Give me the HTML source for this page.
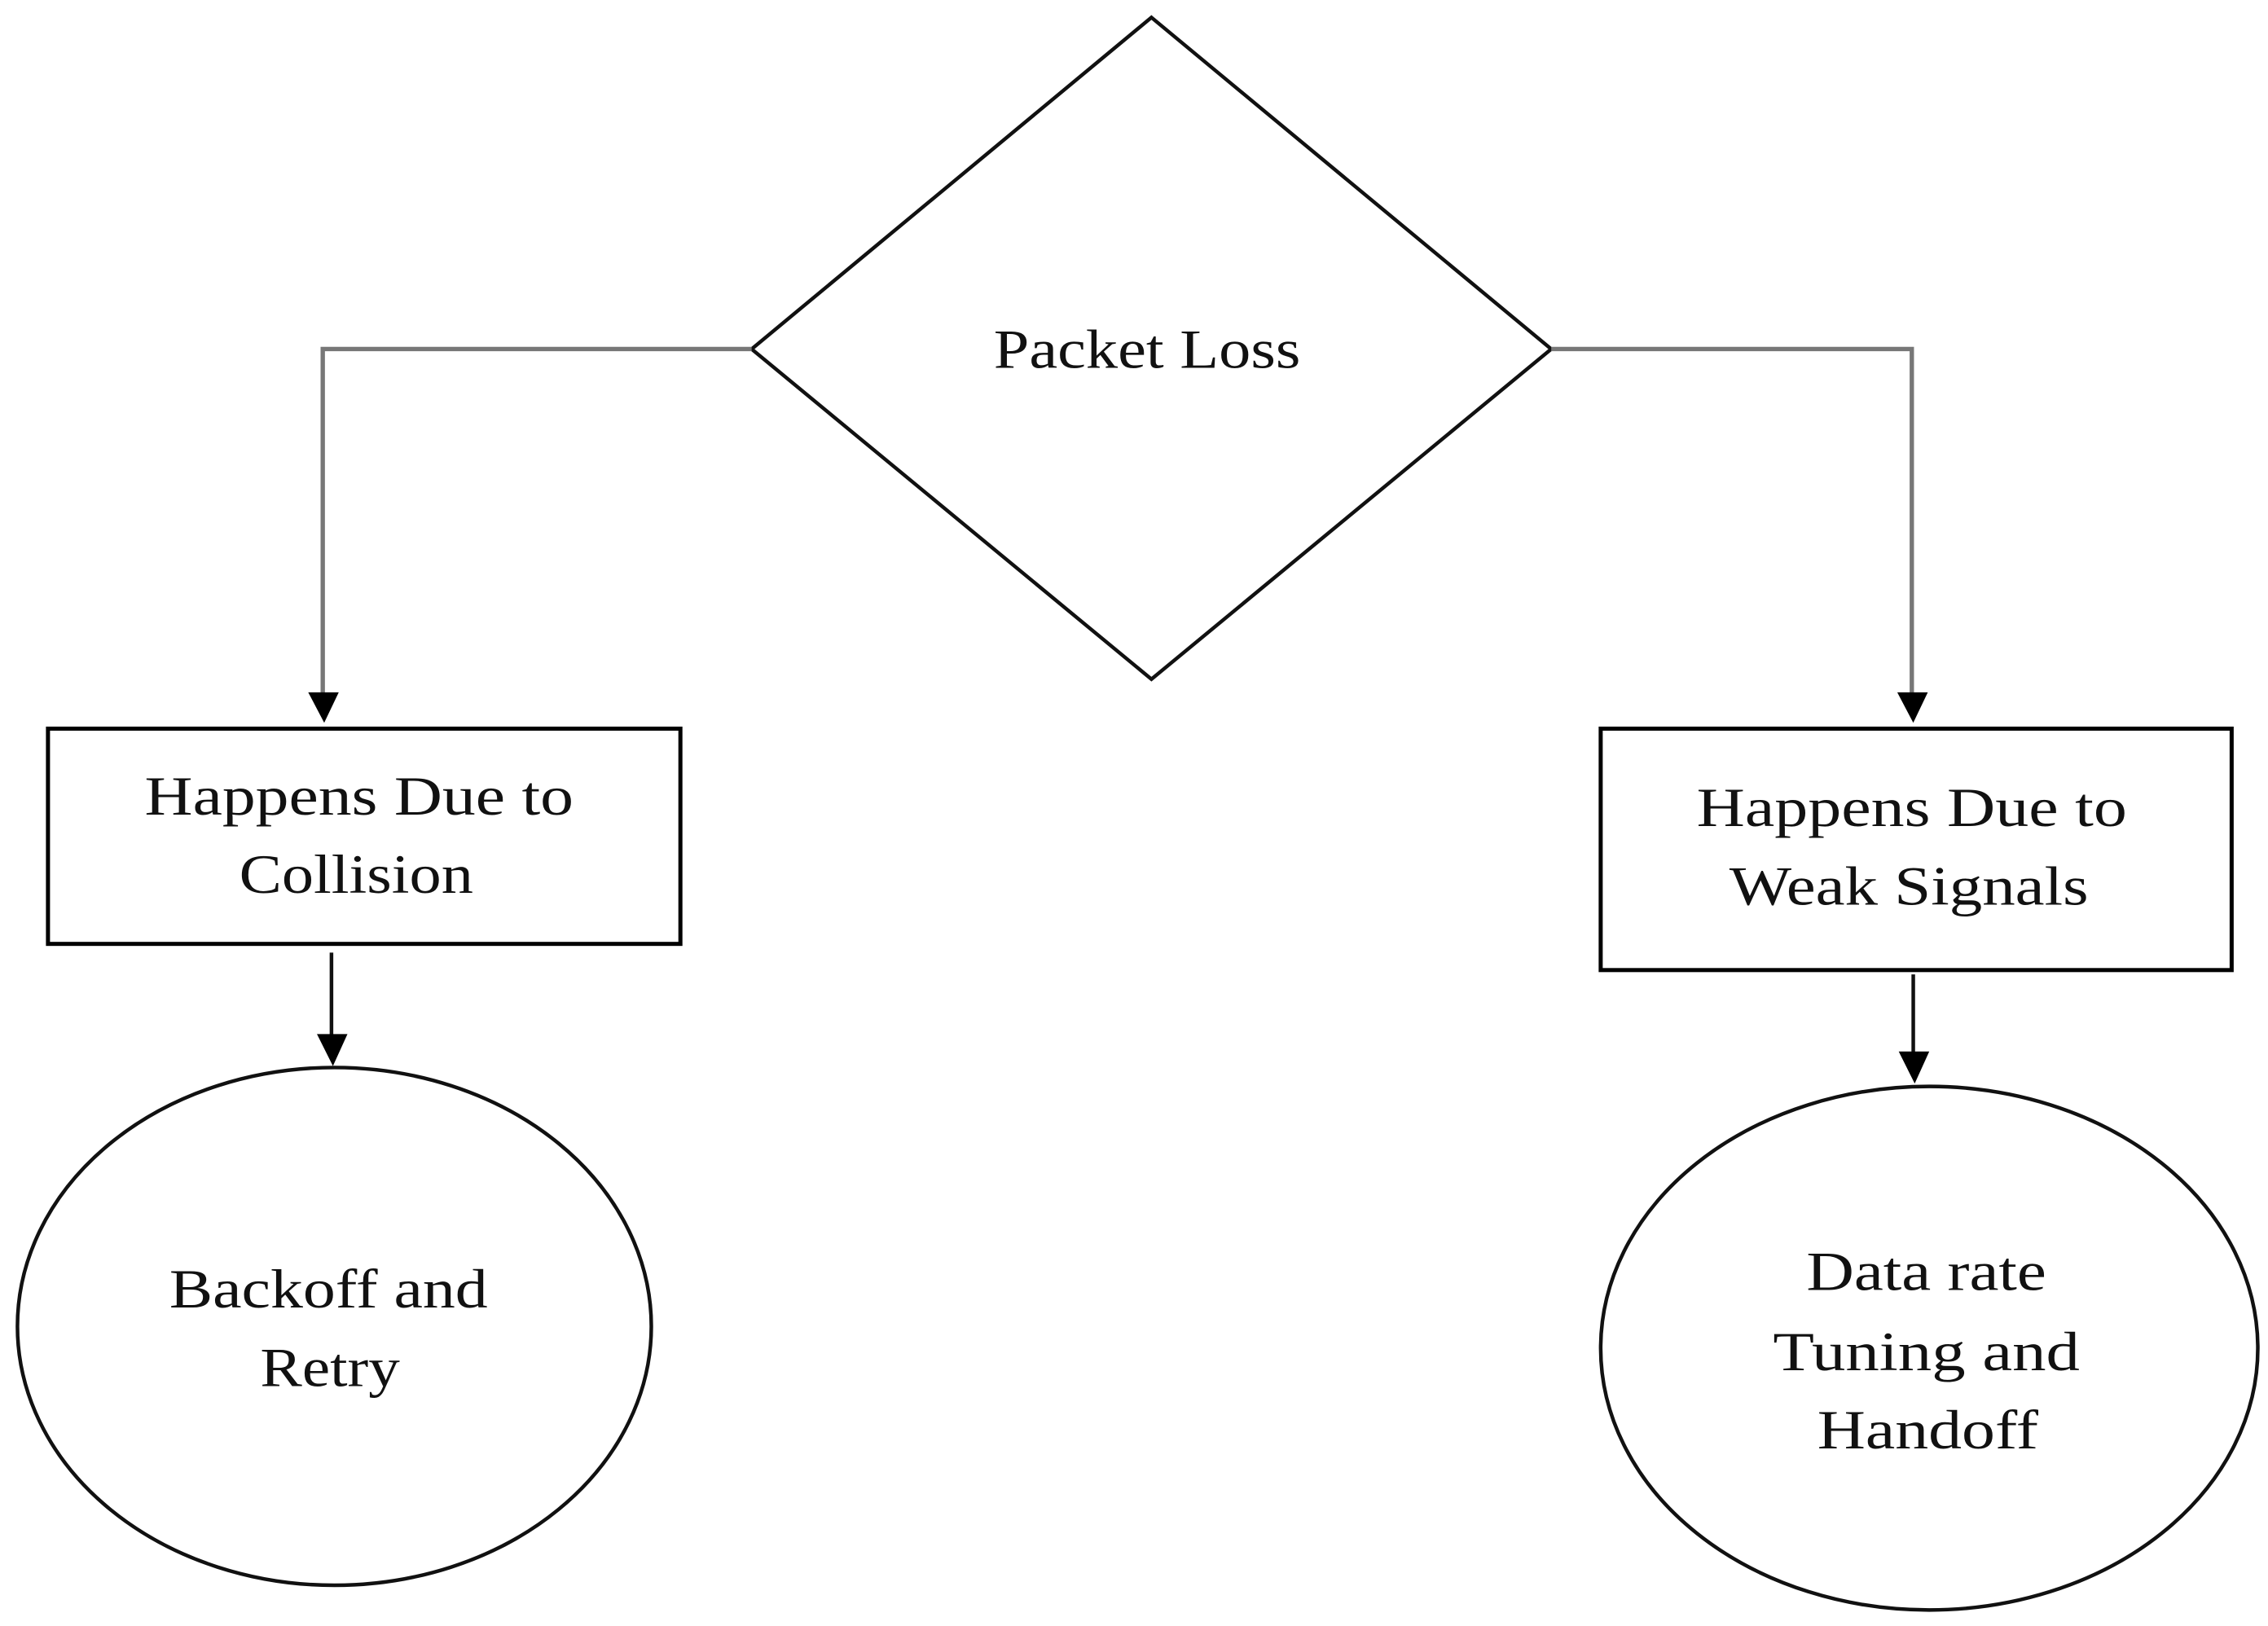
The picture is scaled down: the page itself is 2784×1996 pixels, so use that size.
<!DOCTYPE html>
<html><head><style>
html,body{margin:0;padding:0;background:#fff;}
svg{display:block;}
text{font-family:"Liberation Serif",serif;font-size:38px;fill:#111;text-anchor:middle;}
</style></head><body>
<svg width="2784" height="1996" viewBox="0 0 1560 1118" preserveAspectRatio="none">
<rect width="1560" height="1118" fill="#fff"/>
<polygon points="792,12 1067,240 792,467 517,240" fill="none" stroke="#111" stroke-width="2.5"/>
<polyline points="517,240 222,240 222,480" fill="none" stroke="#777" stroke-width="3"/>
<polygon points="212,476 233,476 223,497" fill="#000"/>
<polyline points="1067,240 1315,240 1315,480" fill="none" stroke="#777" stroke-width="3"/>
<polygon points="1305,476 1326,476 1316,497" fill="#000"/>
<rect x="33" y="501" width="435" height="148" fill="none" stroke="#000" stroke-width="2.8"/>
<rect x="1101" y="501" width="434" height="166" fill="none" stroke="#000" stroke-width="2.8"/>
<line x1="228" y1="655" x2="228" y2="715" stroke="#111" stroke-width="2.5"/>
<polygon points="218,711 239,711 229,733" fill="#000"/>
<line x1="1316" y1="670" x2="1316" y2="727" stroke="#111" stroke-width="2.5"/>
<polygon points="1306,723 1327,723 1317,745" fill="#000"/>
<ellipse cx="230" cy="912" rx="218" ry="178" fill="none" stroke="#111" stroke-width="2.5"/>
<ellipse cx="1327" cy="927" rx="226" ry="180" fill="none" stroke="#111" stroke-width="2.5"/>
<text x="789" y="253" textLength="211" lengthAdjust="spacingAndGlyphs">Packet Loss</text>
<text x="247" y="560" textLength="295" lengthAdjust="spacingAndGlyphs">Happens Due to</text>
<text x="245" y="614" textLength="161" lengthAdjust="spacingAndGlyphs">Collision</text>
<text x="1315" y="568" textLength="296" lengthAdjust="spacingAndGlyphs">Happens Due to</text>
<text x="1313" y="622" textLength="247" lengthAdjust="spacingAndGlyphs">Weak Signals</text>
<text x="226" y="899" textLength="219" lengthAdjust="spacingAndGlyphs">Backoff and</text>
<text x="227" y="953" textLength="96" lengthAdjust="spacingAndGlyphs">Retry</text>
<text x="1325" y="887" textLength="165" lengthAdjust="spacingAndGlyphs">Data rate</text>
<text x="1325" y="942" textLength="211" lengthAdjust="spacingAndGlyphs">Tuning and</text>
<text x="1326" y="996" textLength="152" lengthAdjust="spacingAndGlyphs">Handoff</text>
</svg>
</body></html>
